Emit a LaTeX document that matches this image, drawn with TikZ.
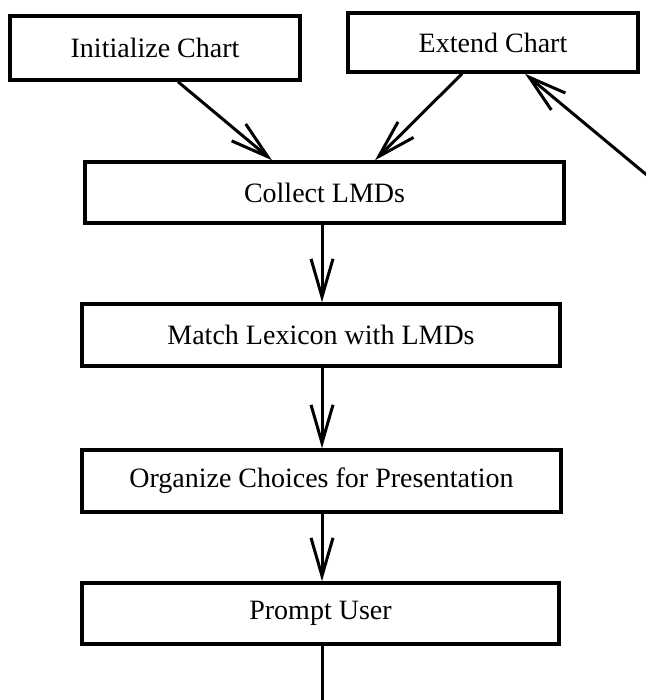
\documentclass[tikz,border=0pt]{standalone}
\usepackage{fontspec}
\setmainfont{Liberation Serif}
\usetikzlibrary{arrows.meta}
\begin{document}
\begin{tikzpicture}[x=1pt,y=-1pt,
  stepbox/.style={draw, line width=3.5pt, inner sep=0pt, font=\fontsize{28}{30}\selectfont},
  arr/.style={line width=3pt, -{Straight Barb[length=38pt,width=22pt,line width=3pt]}},
  plain/.style={line width=3pt}]
\useasboundingbox (0,0) rectangle (645,700);
\node[stepbox, minimum width=290pt, minimum height=64pt] (init) at (155,48) {Initialize Chart};
\node[stepbox, minimum width=290pt, minimum height=59pt] (ext) at (493,42.5) {Extend Chart};
\node[stepbox, minimum width=479pt, minimum height=61pt] (coll) at (324.5,192.5) {Collect LMDs};
\node[stepbox, minimum width=478pt, minimum height=62pt] (match) at (321,335) {Match Lexicon with LMDs};
\node[stepbox, minimum width=479pt, minimum height=62pt] (org) at (321.5,481) {Organize Choices for Presentation};
\node[stepbox, minimum width=477pt, minimum height=61pt] (prompt) at (320.5,613.5) {Prompt User};
\coordinate (X) at (322,0);
\coordinate (loopin) at (648,176);
\coordinate (bottom) at (322,703);
\draw[arr] ([xshift=23pt]init.south) -- ([xshift=-52.5pt]coll.north);
\draw[arr] ([xshift=-31pt]ext.south) -- ([xshift=50.5pt]coll.north);
\draw[arr] (loopin) -- ([xshift=32pt]ext.south);
\draw[arr] (coll.south -| X) -- (match.north -| X);
\draw[arr] (match.south -| X) -- (org.north -| X);
\draw[arr] (org.south -| X) -- (prompt.north -| X);
\draw[plain] (prompt.south -| X) -- (bottom);
\end{tikzpicture}
\end{document}
